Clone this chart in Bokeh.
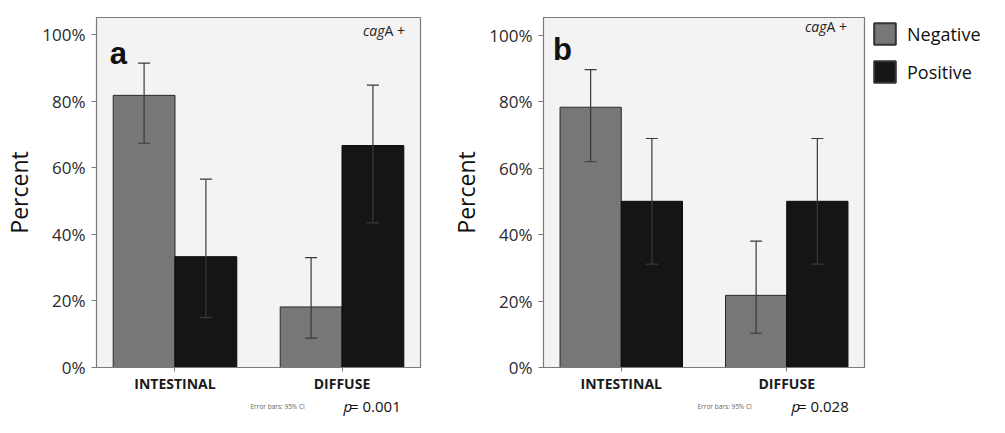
from bokeh.plotting import figure
from bokeh.models import (FactorRange, Range1d, ColumnDataSource, Whisker, Label,
                          FixedTicker, PrintfTickFormatter, Legend, LegendItem)
from bokeh.transform import dodge
from bokeh.layouts import row, column
from bokeh.embed import file_html
from bokeh.resources import INLINE

# ---------------- data ----------------
categories = ["INTESTINAL", "DIFFUSE"]
series = ["Negative", "Positive"]

a_neg = [81.8, 18.2]
a_neg_lo = [67.4, 8.8]
a_neg_hi = [91.5, 33.0]
a_pos = [33.3, 66.7]
a_pos_lo = [15.0, 43.5]
a_pos_hi = [56.6, 84.9]

b_neg = [78.3, 21.7]
b_neg_lo = [61.9, 10.3]
b_neg_hi = [89.6, 38.0]
b_pos = [50.0, 50.0]
b_pos_lo = [31.1, 31.1]
b_pos_hi = [68.9, 68.9]

panel_letters = ["a", "b"]
p_values = ["= 0.001", "= 0.028"]
note_text = "Error bars: 95% CI"
y_ticks = [0, 20, 40, 60, 80, 100]

NEG_COLOR = "#777777"
POS_COLOR = "#151515"
FONT = "Open Sans"
ROW_H = 395
STRIP_H = 21


def make_source(neg, neg_lo, neg_hi, pos, pos_lo, pos_hi):
    return ColumnDataSource(dict(cat=categories, neg=neg, neg_lo=neg_lo, neg_hi=neg_hi,
                                 pos=pos, pos_lo=pos_lo, pos_hi=pos_hi))


def make_panel(letter, src, width, left, top, right, ymax, lab):
    p = figure(x_range=FactorRange(*categories, range_padding=-0.03),
               y_range=Range1d(0, ymax), width=width, height=ROW_H, title=None,
               output_backend="svg", toolbar_location=None,
               min_border_left=left, min_border_top=top, min_border_bottom=25,
               min_border_right=right)
    p.background_fill_color = "#f3f3f3"
    p.border_fill_color = "white"
    p.outline_line_color = "#7a7a7a"
    p.outline_line_width = 1.2
    p.grid.visible = False

    p.vbar(x=dodge("cat", -0.185, range=p.x_range), top="neg", bottom=0, width=0.37,
           source=src, fill_color=NEG_COLOR, line_color="#2a2a2a", line_width=1)
    p.vbar(x=dodge("cat", 0.185, range=p.x_range), top="pos", bottom=0, width=0.37,
           source=src, fill_color=POS_COLOR, line_color="#0a0a0a", line_width=1)
    for key, off in (("neg", -0.185), ("pos", 0.185)):
        w = Whisker(base=dodge("cat", off, range=p.x_range), upper=key + "_hi",
                    lower=key + "_lo", source=src, line_color="#3a3a3a", line_width=1.2,
                    level="overlay")
        for h in (w.upper_head, w.lower_head):
            h.size = 12
            h.line_color = "#3a3a3a"
            h.line_width = 1.2
        p.add_layout(w)

    # axes
    p.yaxis.ticker = FixedTicker(ticks=y_ticks)
    p.yaxis.formatter = PrintfTickFormatter(format="%d%%")
    p.yaxis.axis_label = "Percent"
    p.yaxis.axis_label_text_font = FONT
    p.yaxis.axis_label_text_font_size = "23px"
    p.yaxis.axis_label_text_font_style = "normal"
    p.yaxis.axis_label_text_color = "#111111"
    p.yaxis.axis_label_standoff = 4
    p.yaxis.major_label_text_font = FONT
    p.yaxis.major_label_text_font_size = "17px"
    p.yaxis.major_label_text_color = "#2a2a2a"
    p.yaxis.major_label_standoff = 6
    p.yaxis.major_tick_out = 5
    p.yaxis.major_tick_in = 0
    p.yaxis.minor_tick_line_color = None
    p.yaxis.axis_line_color = "#7a7a7a"
    p.yaxis.major_tick_line_color = "#7a7a7a"

    p.xaxis.major_label_text_font = FONT
    p.xaxis.major_label_text_font_size = "14px"
    p.xaxis.major_label_text_font_style = "bold"
    p.xaxis.major_label_text_color = "#1a1a1a"
    p.xaxis.major_label_standoff = 2
    p.xaxis.major_tick_out = 4
    p.xaxis.major_tick_in = 0
    p.xaxis.axis_line_color = "#7a7a7a"
    p.xaxis.major_tick_line_color = "#7a7a7a"

    # annotations inside the frame
    p.add_layout(Label(x=lab["letter_x"], y=lab["letter_y"], text=letter,
                       text_font="Liberation Sans", text_font_size="31px",
                       text_font_style="bold", text_color="#111111",
                       text_baseline="alphabetic", text_align="left"))
    p.add_layout(Label(x=lab["cag_x"], y=lab["cag_y"], text="cag",
                       text_font=FONT, text_font_size="14px",
                       text_font_style="italic", text_color="#222222",
                       text_baseline="middle", text_align="right"))
    p.add_layout(Label(x=lab["cag_x"], y=lab["cag_y"], text="A +",
                       text_font=FONT, text_font_size="14px",
                       text_color="#222222", text_baseline="middle", text_align="left"))
    return p


def make_strip(width, pval, note_x, p_x):
    s = figure(width=width, height=STRIP_H, x_range=Range1d(0, width),
               y_range=Range1d(0, STRIP_H), x_axis_type=None, y_axis_type=None,
               title=None, output_backend="svg", toolbar_location=None, min_border=0)
    s.outline_line_color = None
    s.background_fill_color = "white"
    s.border_fill_color = "white"
    mid = STRIP_H / 2
    s.add_layout(Label(x=note_x, y=mid, text=note_text, text_font=FONT,
                       text_font_size="6.5px", text_color="#666666",
                       text_baseline="middle", text_align="left"))
    s.add_layout(Label(x=p_x, y=mid, text="p", text_font=FONT, text_font_size="15px",
                       text_font_style="italic", text_color="#111111",
                       text_baseline="middle", text_align="left"))
    s.add_layout(Label(x=p_x + 6.5, y=mid, text=pval, text_font=FONT,
                       text_font_size="15px", text_color="#111111",
                       text_baseline="middle", text_align="left"))
    return s


src_a = make_source(a_neg, a_neg_lo, a_neg_hi, a_pos, a_pos_lo, a_pos_hi)
src_b = make_source(b_neg, b_neg_lo, b_neg_hi, b_pos, b_pos_lo, b_pos_hi)

pa = make_panel(panel_letters[0], src_a, width=447, left=86, top=5, right=27, ymax=105.2,
                lab=dict(letter_x=0.11, letter_y=94.5, cag_x=1.754, cag_y=101.4))
pb = make_panel(panel_letters[1], src_b, width=421, left=89, top=9, right=4, ymax=105.3,
                lab=dict(letter_x=0.088, letter_y=95.6, cag_x=1.740, cag_y=102.6))

# legend panel (legend glyphs come from hidden copies of panel b's bars)
pl = figure(width=117, height=ROW_H, x_range=FactorRange(*categories),
            y_range=Range1d(0, 105.3), x_axis_type=None, y_axis_type=None, title=None,
            output_backend="svg", toolbar_location=None, min_border=0,
            min_border_top=17)
pl.outline_line_color = None
pl.background_fill_color = "white"
pl.border_fill_color = "white"
r_neg = pl.vbar(x="cat", top="neg", width=0.37, source=src_b, fill_color=NEG_COLOR,
                line_color="#333333", line_width=2, visible=False)
r_pos = pl.vbar(x="cat", top="pos", width=0.37, source=src_b, fill_color=POS_COLOR,
                line_color="#333333", line_width=2, visible=False)
legend = Legend(items=[LegendItem(label=series[0], renderers=[r_neg]),
                       LegendItem(label=series[1], renderers=[r_pos])],
                location="top_left", orientation="vertical")
legend.glyph_width = 27
legend.glyph_height = 27
legend.spacing = 11
legend.label_standoff = 9
legend.label_text_font = FONT
legend.label_text_font_size = "18px"
legend.label_text_color = "#111111"
legend.border_line_color = None
legend.background_fill_alpha = 0
legend.inactive_fill_alpha = 0
legend.margin = 3
legend.padding = 0
pl.add_layout(legend)

sa = make_strip(447, p_values[0], note_x=250, p_x=343)
sb = make_strip(538, p_values[1], note_x=250, p_x=344)

layout = column(row(pa, pb, pl), row(sa, sb))
open("out.html", "w").write(file_html(layout, INLINE))
